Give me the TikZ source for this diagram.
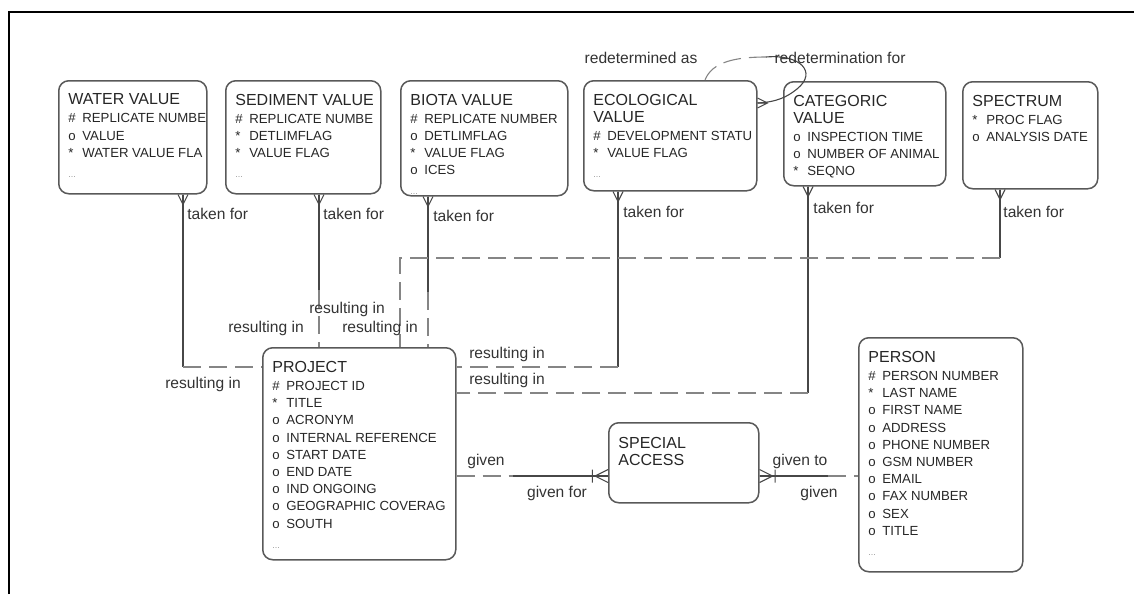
\documentclass[tikz,border=0pt]{standalone}
\usepackage{fontspec}
\setmainfont{Liberation Sans}
\usepackage{xcolor}
\usepackage{tikz}

\newcommand{\ttl}[1]{{\fontsize{8}{9}\selectfont #1}}
\newcommand{\attr}[2]{\makebox[7pt][l]{#1}#2}
\newcommand{\more}{{\color{black!40}\fontsize{4.5}{4.5}\selectfont ...}}

\begin{document}
\begin{tikzpicture}[
x=0.5pt, y=-0.5pt,
entity/.style={rectangle, rounded corners=5pt, draw=black!65, line width=0.75pt, anchor=north west, inner sep=0pt},
attrs/.style={anchor=north west, inner sep=0pt, align=left, font=\fontsize{6.6}{8.6}\selectfont, text=black!85},
lbl/.style={inner sep=0pt, font=\fontsize{7.8}{9}\selectfont, text=black!80},
rel/.style={draw=black!72, line width=0.55pt},
opt/.style={draw=black!48, line width=0.55pt, dash pattern=on 9pt off 4pt},
crow/.pic={\draw[rel] (-5,0) -- (0,10) -- (5,0) (0,0) -- (0,10);},
crowuid/.pic={\draw[rel] (-5,0) -- (0,10) -- (5,0) (0,0) -- (0,10) (-5,12) -- (5,12);}
]

\useasboundingbox (0,0) rectangle (1134,594);
\draw[line width=1pt] (8.5,594) -- (8.5,12) -- (1134,12);

% entities, top row
\node[entity, minimum width=74pt, minimum height=56.5pt] (water) at (58,80) {};
\node[attrs] (water-attrs) at ([shift={(5pt,-6.75pt)}]water.north west) {\ttl{WATER VALUE}\\[0.4pt] \attr{\#}{REPLICATE NUMBE}\\ \attr{o}{VALUE}\\ \attr{*}{WATER VALUE FLA}\\[1.4pt] \more};

\node[entity, minimum width=77.5pt, minimum height=56.5pt] (sediment) at (225,80) {};
\node[attrs] (sediment-attrs) at ([shift={(5pt,-6.75pt)}]sediment.north west) {\ttl{SEDIMENT VALUE}\\[0.4pt] \attr{\#}{REPLICATE NUMBE}\\ \attr{*}{DETLIMFLAG}\\ \attr{*}{VALUE FLAG}\\[1.4pt] \more};

\node[entity, minimum width=83.5pt, minimum height=57.5pt] (biota) at (400,80) {};
\node[attrs] (biota-attrs) at ([shift={(5pt,-6.75pt)}]biota.north west) {\ttl{BIOTA VALUE}\\[0.4pt] \attr{\#}{REPLICATE NUMBER}\\ \attr{o}{DETLIMFLAG}\\ \attr{*}{VALUE FLAG}\\ \attr{o}{ICES}\\[1.4pt] \more};

\node[entity, minimum width=86.5pt, minimum height=55pt] (eco) at (583,80) {};
\node[attrs] (eco-attrs) at ([shift={(5pt,-6.75pt)}]eco.north west) {\ttl{ECOLOGICAL}\\ \ttl{VALUE}\\[0.4pt] \attr{\#}{DEVELOPMENT STATU}\\ \attr{*}{VALUE FLAG}\\[1.4pt] \more};

\node[entity, minimum width=81pt, minimum height=52pt] (categoric) at (783,81) {};
\node[attrs] (categoric-attrs) at ([shift={(5pt,-6.75pt)}]categoric.north west) {\ttl{CATEGORIC}\\ \ttl{VALUE}\\[0.4pt] \attr{o}{INSPECTION TIME}\\ \attr{o}{NUMBER OF ANIMAL}\\ \attr{*}{SEQNO}};

\node[entity, minimum width=67.5pt, minimum height=53.5pt] (spectrum) at (962,81) {};
\node[attrs] (spectrum-attrs) at ([shift={(5pt,-6.75pt)}]spectrum.north west) {\ttl{SPECTRUM}\\[0.4pt] \attr{*}{PROC FLAG}\\ \attr{o}{ANALYSIS DATE}};

% entities, bottom row
\node[entity, minimum width=96.5pt, minimum height=106pt] (project) at (262,347) {};
\node[attrs] (project-attrs) at ([shift={(5pt,-7pt)}]project.north west) {\ttl{PROJECT}\\[0.4pt] \attr{\#}{PROJECT ID}\\ \attr{*}{TITLE}\\ \attr{o}{ACRONYM}\\ \attr{o}{INTERNAL REFERENCE}\\ \attr{o}{START DATE}\\ \attr{o}{END DATE}\\ \attr{o}{IND ONGOING}\\ \attr{o}{GEOGRAPHIC COVERAG}\\ \attr{o}{SOUTH}\\[1.4pt] \more};

\node[entity, minimum width=75pt, minimum height=40pt] (special) at (608,422) {};
\node[attrs] (special-attrs) at ([shift={(5pt,-7.5pt)}]special.north west) {\ttl{SPECIAL}\\ \ttl{ACCESS}};

\node[entity, minimum width=82pt, minimum height=117pt] (person) at (858,337) {};
\node[attrs] (person-attrs) at ([shift={(5pt,-7pt)}]person.north west) {\ttl{PERSON}\\[0.4pt] \attr{\#}{PERSON NUMBER}\\ \attr{*}{LAST NAME}\\ \attr{o}{FIRST NAME}\\ \attr{o}{ADDRESS}\\ \attr{o}{PHONE NUMBER}\\ \attr{o}{GSM NUMBER}\\ \attr{o}{EMAIL}\\ \attr{o}{FAX NUMBER}\\ \attr{o}{SEX}\\ \attr{o}{TITLE}\\[1.4pt] \more};

% bend points
\coordinate (wp) at (183,367);
\coordinate (sp) at (319,290);
\coordinate (bp) at (428,292);
\coordinate (ep) at (618,367);
\coordinate (cp) at (808,393);
\coordinate (xp) at (1000,258);
\coordinate (xq) at (400,258);
\coordinate (lp-top) at (705,0);
\coordinate (lp-mid) at (766,57);
\coordinate (lp-end) at (0,103);
\coordinate (gl) at (513,476);
\coordinate (gr) at (828,476);

% taken for / resulting in
\draw[rel] (water.south -| wp) -- (wp);
\draw[opt] (wp) -- (wp -| project.west);
\draw[rel] (sediment.south -| sp) -- (sp);
\draw[opt] (sp) -- (sp |- project.north);
\draw[rel] (biota.south -| bp) -- (bp);
\draw[opt] (bp) -- (bp |- project.north);
\draw[rel] (eco.south -| ep) -- (ep);
\draw[opt] (ep) -- (ep -| project.east);
\draw[rel] (categoric.south -| cp) -- (cp);
\draw[opt] (cp) -- (cp -| project.east);
\draw[rel] (spectrum.south -| xp) -- (xp);
\draw[opt] (xp) -- (xq) -- (xq |- project.north);

\pic at (water.south -| wp) {crow};
\pic at (sediment.south -| sp) {crow};
\pic at (biota.south -| bp) {crow};
\pic at (eco.south -| ep) {crow};
\pic at (categoric.south -| cp) {crow};
\pic at (spectrum.south -| xp) {crow};

% redetermination
\draw[opt] (eco.north -| lp-top) .. controls (712,62) and (735,57) .. (lp-mid);
\draw[rel] (lp-mid) .. controls (800,54) and (818,72) .. (797,89) .. controls (787,97) and (777,102) .. (eco.east |- lp-end);
\pic[rotate=90] at (eco.east |- lp-end) {crow};

% special access
\draw[opt] (project.east |- gl) -- (gl);
\draw[rel] (gl) -- (special.west |- gl);
\draw[rel] (special.east |- gr) -- (gr);
\draw[opt] (gr) -- (person.west |- gr);
\pic[rotate=-90, scale=1.3] at (special.west |- gl) {crowuid};
\pic[rotate=90, scale=1.3] at (special.east |- gr) {crowuid};

% labels
\node[lbl, anchor=west] (water-taken) at (187,214) {taken for};
\node[lbl, anchor=west] (sediment-taken) at (323,214) {taken for};
\node[lbl, anchor=west] (biota-taken) at (433,216) {taken for};
\node[lbl, anchor=west] (eco-taken) at (623,212) {taken for};
\node[lbl, anchor=west] (categoric-taken) at (813,208) {taken for};
\node[lbl, anchor=west] (spectrum-taken) at (1003,212) {taken for};

\node[lbl] (water-res) at (203,384) {resulting in};
\node[lbl] (sediment-res) at (266,328) {resulting in};
\node[lbl] (biota-res) at (380,328) {resulting in};
\node[lbl] (spectrum-res) at (347,309) {resulting in};
\node[lbl] (eco-res) at (507,354) {resulting in};
\node[lbl] (categoric-res) at (507,380) {resulting in};

\node[lbl] (redet-as) at (641,58) {redetermined as};
\node[lbl] (redet-for) at (840,58) {redetermination for};

\node[lbl] (given-l) at (486,461) {given};
\node[lbl] (given-for) at (557,493) {given for};
\node[lbl] (given-to) at (800,461) {given to};
\node[lbl] (given-r) at (819,493) {given};

\end{tikzpicture}
\end{document}
